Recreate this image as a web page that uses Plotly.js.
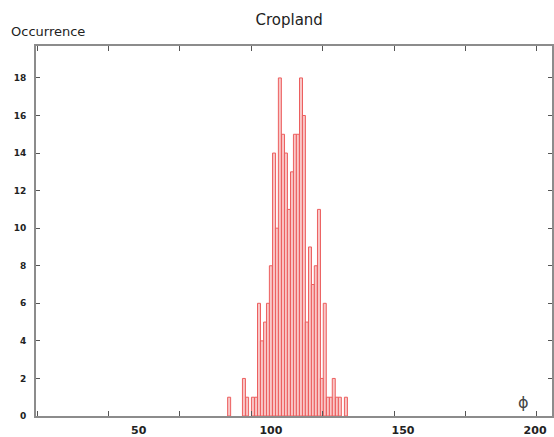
<!DOCTYPE html>
<html>
<head>
<meta charset="utf-8">
<script src="https://cdn.plot.ly/plotly-3.0.1.min.js"></script>
<style>
  html, body { margin: 0; padding: 0; background: #ffffff; }
  #chart { width: 554px; height: 437px; }
</style>
</head>
<body>
<div id="chart"></div>
<script>
// Histogram bins (centre of each phi bin) and occurrence counts
const binCentres = [84.2, 89.8, 91.0, 93.2, 94.4, 95.5, 96.6, 97.8, 98.9, 100.0,
                    101.2, 102.3, 103.4, 104.6, 105.7, 106.8, 108.0, 109.1, 110.2, 111.4,
                    112.5, 113.6, 114.8, 115.9, 117.0, 118.2, 119.3, 120.4, 121.6, 122.7,
                    123.8, 125.0, 126.1, 128.4];
const counts     = [1, 2, 1, 1, 1, 6, 4, 5, 6, 8,
                    14, 10, 18, 15, 14, 11, 13, 15, 15, 18,
                    16, 5, 9, 7, 8, 11, 2, 6, 1, 1,
                    2, 1, 1, 1];
const binWidth = 1.133;

// Axis labelling
const xLabelVals = [50, 100, 150, 200];
const xLabelText = ['50', '100', '150', '200'];
const xTickMarks = [11.7, 38.7, 65.6, 92.6, 119.6, 146.6, 173.6, 200.5];
const xRange = [11.1, 206.4];
const yRange = [0, 19.7];
const yTickVals = [0, 2, 4, 6, 8, 10, 12, 14, 16, 18];

const axisGrey = '#8c8c8c';
const textCol = '#222222';

const trace = {
  type: 'bar',
  x: binCentres,
  y: counts,
  width: binWidth,
  marker: {
    color: 'rgba(247,180,180,0.75)',
    line: { color: '#ec5f5f', width: 1 }
  },
  hoverinfo: 'x+y',
  showlegend: false
};

// invisible helper trace on the secondary x axis so the tick-mark axis is drawn
const helper = {
  type: 'scatter', mode: 'markers',
  x: [xRange[0]], y: [0], xaxis: 'x2',
  marker: { opacity: 0 }, hoverinfo: 'skip', showlegend: false
};

const layout = {
  width: 554, height: 437,
  margin: { l: 36, r: 2, t: 46, b: 21, pad: 0 },
  paper_bgcolor: '#ffffff',
  plot_bgcolor: '#ffffff',
  bargap: 0,
  font: { family: 'DejaVu Sans, sans-serif', color: textCol },
  title: {
    text: 'Cropland',
    font: { size: 15, family: 'DejaVu Sans, sans-serif', color: textCol },
    x: 0.522, xanchor: 'center', y: 0.955, yanchor: 'middle'
  },
  xaxis: {
    range: xRange,
    tickvals: xLabelVals,
    ticktext: xLabelText,
    ticks: '',
    showgrid: false, zeroline: false,
    showline: true, linecolor: axisGrey, linewidth: 2,
    mirror: true,
    ticklabelstandoff: 3,
    tickfont: { size: 11, weight: 'bold', family: 'DejaVu Sans, sans-serif', color: textCol }
  },
  xaxis2: {
    range: xRange,
    overlaying: 'x',
    anchor: 'y',
    side: 'bottom',
    tickvals: xTickMarks,
    ticks: 'inside', ticklen: 5, tickwidth: 1, tickcolor: '#555555',
    mirror: 'ticks',
    showticklabels: false,
    showgrid: false, zeroline: false, showline: false
  },
  yaxis: {
    range: yRange,
    tickvals: yTickVals,
    ticks: 'inside', ticklen: 4, tickwidth: 1, tickcolor: '#555555',
    showgrid: false, zeroline: false,
    showline: true, linecolor: axisGrey, linewidth: 2,
    mirror: 'ticks',
    ticklabelstandoff: 6,
    tickfont: { size: 9, weight: 'bold', family: 'DejaVu Sans, sans-serif', color: textCol }
  },
  annotations: [
    {
      text: 'Occurrence', xref: 'paper', yref: 'paper',
      x: -0.053, y: 1.013, xanchor: 'left', yanchor: 'bottom', showarrow: false,
      font: { size: 13, family: 'DejaVu Sans, sans-serif', color: textCol }
    },
    {
      text: 'ϕ', xref: 'x', yref: 'y',
      x: 195.8, y: 0.7, xanchor: 'center', yanchor: 'middle', showarrow: false,
      font: { size: 16, family: 'DejaVu Sans, sans-serif', color: '#444444' }
    }
  ]
};

Plotly.newPlot('chart', [trace, helper], layout, { displayModeBar: false, staticPlot: true });
</script>
</body>
</html>
